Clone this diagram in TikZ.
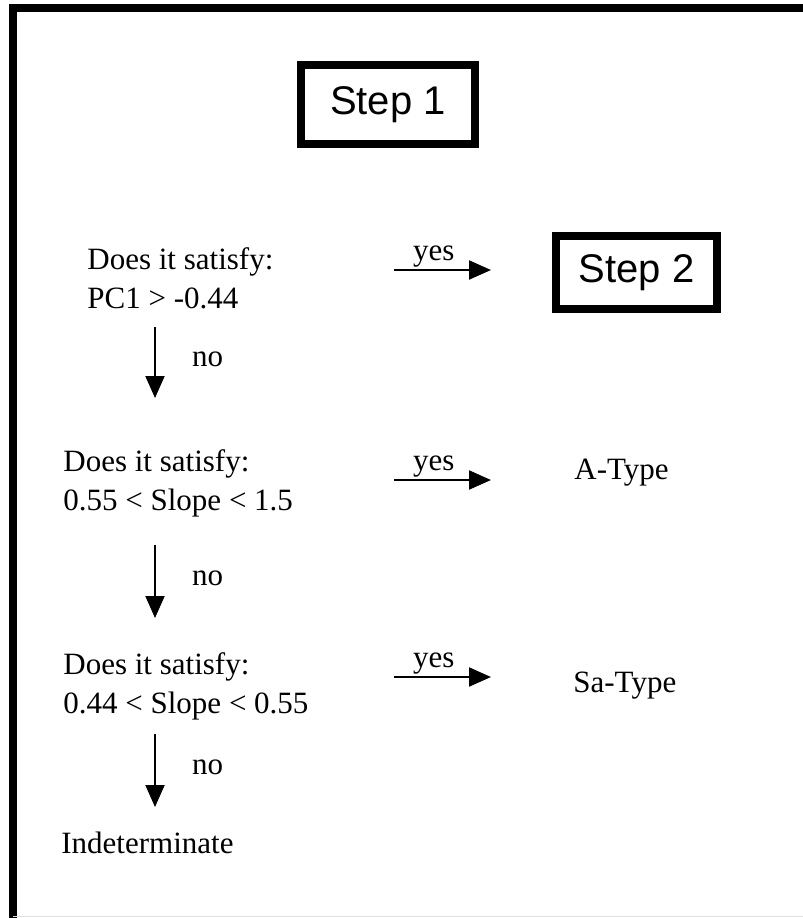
\documentclass[tikz,border=0pt]{standalone}
\usepackage{fontspec}
\setmainfont{Liberation Serif}
\newfontfamily\boxfont{Liberation Sans}
\usetikzlibrary{arrows.meta,positioning,calc}

\begin{document}
\begin{tikzpicture}[x=0.5pt, y=-0.5pt,
    question/.style={anchor=base west, inner sep=0pt, align=left, font=\fontsize{15.5}{19.5}\selectfont},
    outcome/.style={anchor=base west, inner sep=0pt, font=\fontsize{15.5}{19.5}\selectfont},
    stepbox/.style={draw, line width=4pt, inner sep=0pt, font=\boxfont\fontsize{20}{24}\selectfont},
    answer/.style={inner sep=0pt, font=\fontsize{15.5}{19.5}\selectfont},
    flow/.style={-{Triangle[length=11pt, width=9.5pt]}, line width=1pt}
]
    \useasboundingbox (0,0) rectangle (803,918);
    % outer frame
    \draw[line width=4pt] (13,918) -- (13,8) -- (803,8);
    \draw[gray!25, line width=0.5pt] (13,916.5) -- (803,916.5);

    \node[stepbox, minimum width=87pt, minimum height=39.5pt] (s1) at (388,104.5) {Step 1};
    \node[stepbox, minimum width=80.5pt, minimum height=36.5pt] (s2) at (636.5,272.5) {Step 2};

    % base = baseline of the last line
    \node[question] (q1) at (87,308) {Does it satisfy:\\PC1 > -0.44};
    \node[question] (q2) at (63,510) {Does it satisfy:\\0.55 < Slope < 1.5};
    \node[question] (q3) at (63,713) {Does it satisfy:\\0.44 < Slope < 0.55};
    \node[outcome] (indet) at (61,853) {Indeterminate};
    \node[outcome] (atype) at (574,479) {A-Type};
    \node[outcome] (satype) at (573,692) {Sa-Type};

    \coordinate (nocol) at (155,0);
    \coordinate (yesL) at (394,0);
    \coordinate (yesR) at (491,0);

    % yes branches
    \draw[flow] ($(q1.base -| yesL)+(0,-38)$) -- ($(q1.base -| yesR)+(0,-38)$) node[pos=0.41, above=1pt, answer] {yes};
    \draw[flow] ($(q2.base -| yesL)+(0,-30)$) -- ($(q2.base -| yesR)+(0,-30)$) node[pos=0.41, above=1pt, answer] {yes};
    \draw[flow] ($(q3.base -| yesL)+(0,-36)$) -- ($(q3.base -| yesR)+(0,-36)$) node[pos=0.41, above=1pt, answer] {yes};

    % no branches
    \draw[flow] ($(q1.base -| nocol)+(0,19)$) -- ($(q2.base -| nocol)+(0,-112)$) node[pos=0.45, right=18pt, answer] {no};
    \draw[flow] ($(q2.base -| nocol)+(0,35)$) -- ($(q3.base -| nocol)+(0,-95)$) node[pos=0.45, right=18pt, answer] {no};
    \draw[flow] ($(q3.base -| nocol)+(0,21)$) -- ($(indet.base -| nocol)+(0,-46)$) node[pos=0.45, right=18pt, answer] {no};
\end{tikzpicture}
\end{document}
